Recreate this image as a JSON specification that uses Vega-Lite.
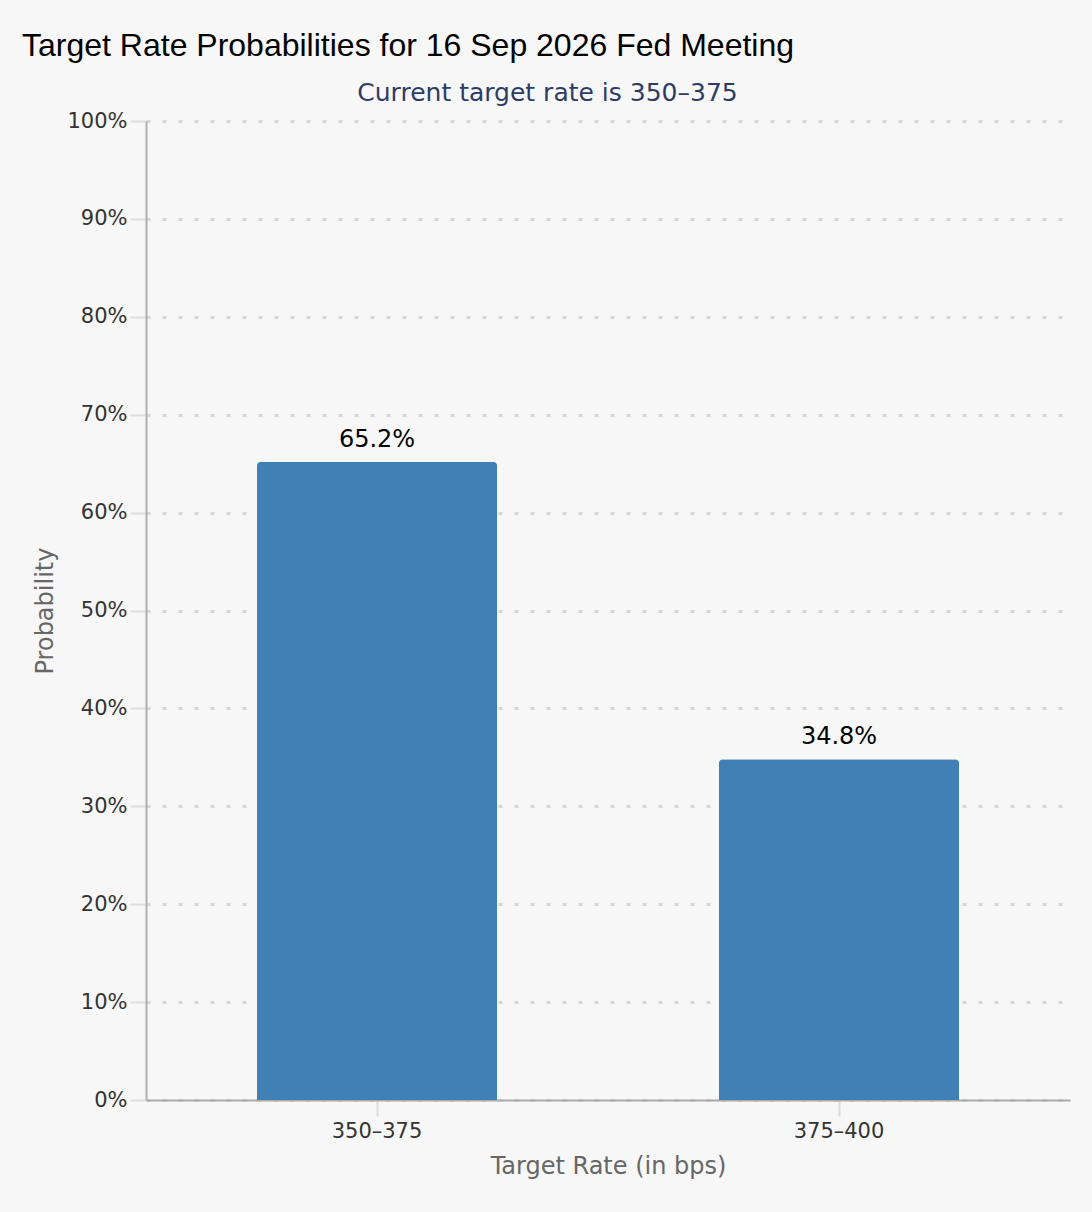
{
  "$schema": "https://vega.github.io/schema/vega-lite/v6.json",
  "width": 924,
  "height": 979,
  "autosize": "none",
  "padding": {"left": 146, "top": 121, "right": 22, "bottom": 112},
  "background": "#f7f7f7",
  "title": {
    "text": "Target Rate Probabilities for 16 Sep 2026 Fed Meeting",
    "anchor": "start",
    "frame": "group",
    "dx": -124,
    "offset": -8,
    "baseline": "alphabetic",
    "font": "Liberation Sans",
    "fontSize": 32,
    "fontWeight": "normal",
    "color": "#000000"
  },
  "data": {
    "values": [
      {"rate": "350–375", "prob": 0.652},
      {"rate": "375–400", "prob": 0.348}
    ]
  },
  "config": {
    "view": {"stroke": null},
    "font": "DejaVu Sans"
  },
  "resolve": {"axis": {"x": "independent"}},
  "layer": [
    {
      "mark": {"type": "bar", "color": "#4180b4", "cornerRadiusTopLeft": 4, "cornerRadiusTopRight": 4},
      "encoding": {
        "x": {
          "field": "rate",
          "type": "nominal",
          "sort": null,
          "scale": {"paddingInner": 0.48, "paddingOuter": 0.24},
          "axis": {
            "orient": "bottom",
            "title": "Target Rate (in bps)",
            "titleFont": "DejaVu Sans",
            "titleFontSize": 24,
            "titleFontWeight": "normal",
            "titleColor": "#666666",
            "titleBaseline": "alphabetic",
            "titleY": 73,
            "labelAngle": 0,
            "labelFont": "DejaVu Sans",
            "labelFontSize": 21,
            "labelColor": "#333333",
            "labelPadding": 4,
            "labelBaseline": "top",
            "tickSize": 16,
            "tickWidth": 2,
            "tickColor": "#dddddd",
            "domainColor": "#aaaaaa",
            "domainWidth": 2,
            "grid": false
          }
        },
        "y": {
          "field": "prob",
          "type": "quantitative",
          "scale": {"domain": [0, 1], "nice": false},
          "axis": {
            "title": "Probability",
            "titleFont": "DejaVu Sans",
            "titleFontSize": 24,
            "titleFontWeight": "normal",
            "titleColor": "#666666",
            "titleBaseline": "alphabetic",
            "titleX": -94,
            "titleAngle": -90,
            "values": [0, 0.1, 0.2, 0.3, 0.4, 0.5, 0.6, 0.7, 0.8, 0.9, 1],
            "format": ".0%",
            "labelFont": "DejaVu Sans",
            "labelFontSize": 21,
            "labelColor": "#333333",
            "labelPadding": 3,
            "tickSize": 16,
            "tickWidth": 2,
            "tickColor": "#dddddd",
            "domainColor": "#b0b0b0",
            "domainWidth": 2,
            "grid": true,
            "gridColor": "#d6d6d6",
            "gridWidth": 3,
            "gridDash": [4, 12]
          }
        }
      }
    },
    {
      "mark": {"type": "text", "baseline": "alphabetic", "dy": -15, "font": "DejaVu Sans", "fontSize": 24, "color": "#000000"},
      "encoding": {
        "x": {
          "field": "rate",
          "type": "nominal",
          "sort": null,
          "axis": {
            "orient": "top",
            "title": "Current target rate is 350–375",
            "titleFont": "DejaVu Sans",
            "titleFontSize": 25,
            "titleFontWeight": "normal",
            "titleColor": "#2d3c64",
            "titleAlign": "center",
            "titleBaseline": "alphabetic",
            "titleX": 401,
            "titleY": -21,
            "labels": false,
            "ticks": false,
            "domain": false,
            "grid": false
          }
        },
        "y": {"field": "prob", "type": "quantitative"},
        "text": {"field": "prob", "type": "quantitative", "format": ".1%"}
      }
    }
  ]
}
